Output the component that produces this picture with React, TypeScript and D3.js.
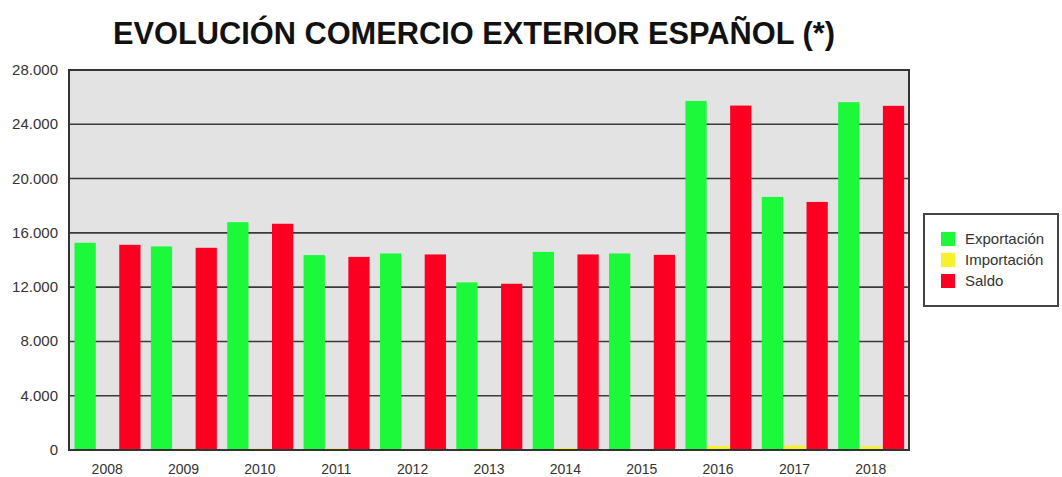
import React from "react";
import * as d3 from "d3";

const years = ["2008", "2009", "2010", "2011", "2012", "2013", "2014", "2015", "2016", "2017", "2018"];
const exportacion = [15270, 15000, 16790, 14360, 14480, 12350, 14600, 14480, 25720, 18650, 25630];
const importacion = [30, 90, 100, 110, 80, 100, 150, 40, 300, 330, 270];
const saldo = [15120, 14900, 16670, 14230, 14410, 12250, 14410, 14380, 25380, 18280, 25360];
const seriesNames = ["Exportación", "Importación", "Saldo"];
const seriesColors = ["#1cf83a", "#f7f02c", "#fb0021"];
const yTicks = [0, 4000, 8000, 12000, 16000, 20000, 24000, 28000];
const title = "EVOLUCIÓN COMERCIO EXTERIOR ESPAÑOL (*)";

export default function App() {
  const W = 1062, H = 477;
  const left = 69, right = 909, top = 70, bottom = 450;
  const x0 = d3.scaleBand<string>().domain(years).range([left, right]).padding(0);
  const x1 = d3.scaleBand<string>().domain(seriesNames).range([5.5, 71.5]).paddingInner(0.05);
  const y = d3.scaleLinear().domain([0, 28000]).range([bottom, top]);
  const data = [exportacion, importacion, saldo];
  const fmt = (v: number) => d3.format(",")(v).replace(/,/g, ".");
  const font = "'Liberation Sans', Arial, sans-serif";

  return (
    <svg width={W} height={H} style={{ position: "absolute", left: 0, top: 0, background: "#fff" }}>
      <text x={474} y={44} textAnchor="middle" fontFamily={font} fontWeight="bold" fontSize={31} fill="#111" textLength={722} lengthAdjust="spacingAndGlyphs">
        {title}
      </text>
      <rect x={left} y={top} width={right - left} height={bottom - top} fill="#e3e3e3" />
      {yTicks.filter((t) => t > 0 && t < 28000).map((t) => (
        <line key={t} x1={left} x2={right} y1={y(t)} y2={y(t)} stroke="#3a3a3a" strokeWidth={1.6} />
      ))}
      {years.map((yr, i) => (
        <g key={yr} transform={`translate(${x0(yr)},0)`}>
          {seriesNames.map((s, j) => {
            const v = data[j][i];
            return (
              <rect key={s} x={x1(s)} y={y(v)} width={x1.bandwidth()} height={bottom - y(v)} fill={seriesColors[j]} />
            );
          })}
        </g>
      ))}
      <rect x={left} y={top} width={right - left} height={bottom - top} fill="none" stroke="#333" strokeWidth={2} />
      {yTicks.map((t) => (
        <text key={t} x={58} y={y(t) + 5} textAnchor="end" fontFamily={font} fontSize={15} fill="#333">
          {fmt(t)}
        </text>
      ))}
      {years.map((yr) => (
        <text key={yr} x={(x0(yr) as number) + x0.bandwidth() / 2} y={474} textAnchor="middle" fontFamily={font} fontSize={14} fill="#333">
          {yr}
        </text>
      ))}
      <g>
        <rect x={924} y={214} width={134} height={92} fill="#fff" stroke="#444" strokeWidth={2} />
        {seriesNames.map((s, j) => (
          <g key={s} transform={`translate(941,${232 + j * 21})`}>
            <rect x={0} y={0} width={14} height={14} fill={seriesColors[j]} />
            <text x={24} y={12} fontFamily={font} fontSize={15} fill="#333">{s}</text>
          </g>
        ))}
      </g>
    </svg>
  );
}
